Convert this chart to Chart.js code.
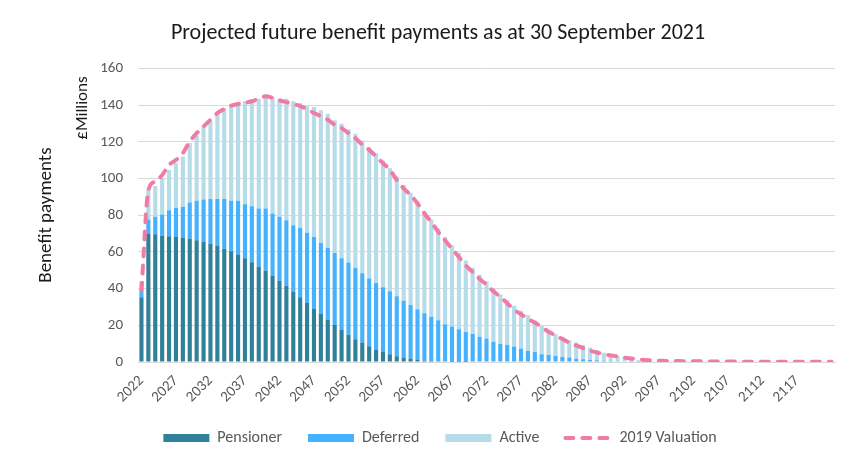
<!DOCTYPE html>
<html>
<head>
<meta charset="utf-8">
<script src="https://cdn.jsdelivr.net/npm/chart.js@4.4.0/dist/chart.umd.min.js"></script>
<style>
  html, body { margin: 0; padding: 0; background: #fff; }
  #wrap { width: 852px; height: 462px; }
</style>
</head>
<body>
<div id="wrap"><canvas id="benefit-payments"></canvas></div>
<script>
// Projected benefit payments (£m) by year
const years = [
  2022, 2023, 2024, 2025, 2026, 2027, 2028, 2029, 2030, 2031,
  2032, 2033, 2034, 2035, 2036, 2037, 2038, 2039, 2040, 2041,
  2042, 2043, 2044, 2045, 2046, 2047, 2048, 2049, 2050, 2051,
  2052, 2053, 2054, 2055, 2056, 2057, 2058, 2059, 2060, 2061,
  2062, 2063, 2064, 2065, 2066, 2067, 2068, 2069, 2070, 2071,
  2072, 2073, 2074, 2075, 2076, 2077, 2078, 2079, 2080, 2081,
  2082, 2083, 2084, 2085, 2086, 2087, 2088, 2089, 2090, 2091,
  2092, 2093, 2094, 2095, 2096, 2097, 2098, 2099, 2100, 2101,
  2102, 2103, 2104, 2105, 2106, 2107, 2108, 2109, 2110, 2111,
  2112, 2113, 2114, 2115, 2116, 2117, 2118, 2119, 2120, 2121, 2122
];

// years that get a label on the axis
const tickYears = [
  2022, 2027, 2032, 2037, 2042, 2047, 2052, 2057, 2062, 2067,
  2072, 2077, 2082, 2087, 2092, 2097, 2102, 2107, 2112, 2117
];

const pensioner = [
  35.3, 70.0, 69.6, 69.0, 68.5, 68.1, 67.6, 67.2, 66.3, 65.4,
  64.5, 63.2, 61.7, 60.3, 58.6, 56.6, 54.4, 52.1, 49.9, 46.8,
  44.4, 41.6, 38.4, 35.3, 32.1, 28.9, 26.1, 23.2, 20.1, 17.4,
  14.8, 12.4, 10.6, 8.6, 6.8, 5.5, 4.2, 3.1, 2.4, 1.6,
  1.1, 0.7, 0.5, 0.4, 0.3, 0.2, 0.1, 0.1, 0, 0,
  0, 0, 0, 0, 0, 0, 0, 0, 0, 0,
  0, 0, 0, 0, 0, 0, 0, 0, 0, 0,
  0, 0, 0, 0, 0, 0, 0, 0, 0, 0,
  0, 0, 0, 0, 0, 0, 0, 0, 0, 0,
  0, 0, 0, 0, 0, 0, 0, 0, 0, 0, 0
];

const deferred = [
  4.5, 7.6, 9.5, 11.4, 14.2, 15.9, 17.0, 19.7, 21.6, 23.2,
  24.3, 25.6, 27.1, 27.6, 29.3, 29.4, 30.5, 31.6, 33.8, 34.1,
  34.7, 35.7, 36.1, 37.8, 38.4, 39.2, 38.7, 39.1, 39.3, 39.2,
  39.4, 38.9, 37.8, 36.9, 36.3, 35.2, 34.3, 32.7, 31.0, 29.5,
  27.6, 25.8, 24.2, 22.4, 20.3, 19.2, 17.8, 16.3, 15.2, 13.7,
  12.8, 11.1, 10.0, 9.3, 8.4, 7.3, 6.0, 5.5, 4.2, 3.8,
  3.3, 2.7, 2.4, 1.8, 1.5, 1.1, 0.9, 0.7, 0.5, 0.4,
  0.3, 0.2, 0.1, 0.1, 0, 0, 0, 0, 0, 0,
  0, 0, 0, 0, 0, 0, 0, 0, 0, 0,
  0, 0, 0, 0, 0, 0, 0, 0, 0, 0, 0
];

const active = [
  4.2, 17.0, 16.8, 19.7, 22.0, 24.3, 27.4, 32.4, 35.4, 39.8,
  42.3, 46.9, 49.6, 51.5, 52.4, 56.1, 58.1, 59.7, 62.1, 63.6,
  64.3, 66.1, 67.6, 68.1, 68.9, 70.9, 72.4, 73.0, 72.3, 73.3,
  72.7, 73.1, 72.3, 71.6, 70.7, 69.1, 67.1, 65.2, 63.0, 61.1,
  58.6, 55.9, 52.9, 49.9, 47.5, 44.2, 41.5, 38.9, 36.1, 33.8,
  31.2, 29.1, 26.8, 24.5, 22.3, 20.6, 19.6, 17.0, 15.5, 13.6,
  11.9, 11.0, 9.5, 8.8, 7.8, 6.8, 5.7, 4.4, 3.7, 2.9,
  2.1, 1.3, 0.8, 0.4, 0.4, 0.3, 0.2, 0.2, 0.1, 0.1,
  0.1, 0, 0, 0, 0, 0, 0, 0, 0, 0,
  0, 0, 0, 0, 0, 0, 0, 0, 0, 0, 0
];

const valuation2019 = [
  39, 93.5, 98.3, 101.9, 107.4, 110.1, 113.8, 120.2, 124.7, 128.4,
  132, 135.7, 137.9, 139.7, 140.6, 141.2, 142.1, 143.4, 144.8, 143.9,
  142.6, 141.6, 140.6, 139.4, 137.8, 135.7, 133.9, 132, 129.3, 127.5,
  124.7, 122, 118.4, 115.6, 112, 108.3, 104.7, 99.2, 94.6, 91,
  86.4, 80.9, 76.3, 70.9, 66.3, 61.7, 57.2, 52.6, 49, 45.3,
  42.2, 38.5, 35.5, 32, 28.5, 26, 23.5, 21.5, 19, 16.5,
  14.5, 12.5, 10.5, 9, 7.5, 6.2, 5.2, 4.3, 3.6, 3,
  2.4, 1.9, 1.4, 1.1, 0.9, 0.7, 0.6, 0.5, 0.5, 0.4,
  0.4, 0.4, 0.3, 0.3, 0.3, 0.3, 0.3, 0.2, 0.2, 0.2,
  0.2, 0.2, 0.2, 0.2, 0.2, 0.1, 0.1, 0.1, 0.1, 0.1, 0.1
];

const FONT = "Carlito, Calibri, Lato, sans-serif";
const GREY_TEXT = '#595959';
const DARK_TEXT = '#1a1a1a';
const GRID = '#d9d9d9';
const DASH = [8, 9];

function verticalText(ctx, text, x, y, size) {
  ctx.save();
  ctx.translate(x, y);
  ctx.rotate(-Math.PI / 2);
  ctx.font = `${size}px ${FONT}`;
  ctx.fillStyle = DARK_TEXT;
  ctx.textAlign = 'center';
  ctx.textBaseline = 'middle';
  ctx.fillText(text, 0, 0);
  ctx.restore();
}

// the two vertical axis titles sit outside the scale box, and the title /
// legend are nudged left to where Excel centred them
const chartExtras = {
  id: 'chartExtras',
  afterLayout(chart) {
    chart.legend.left -= 12;
    chart.legend.right -= 12;
    chart.titleBlock.left -= 14;
    chart.titleBlock.right -= 14;
  },
  afterDraw(chart) {
    verticalText(chart.ctx, 'Benefit payments', 46, 215, 19);
    verticalText(chart.ctx, '£Millions', 83, 108, 17);
  }
};

const defaultLabels = Chart.defaults.plugins.legend.labels.generateLabels;

new Chart(document.getElementById('benefit-payments'), {
  data: {
    labels: years,
    datasets: [
      {
        type: 'bar',
        label: 'Pensioner',
        data: pensioner,
        backgroundColor: '#31809a',
        stack: 'members',
        barPercentage: 0.6,
        categoryPercentage: 1
      },
      {
        type: 'bar',
        label: 'Deferred',
        data: deferred,
        backgroundColor: '#45b2ff',
        stack: 'members',
        barPercentage: 0.6,
        categoryPercentage: 1
      },
      {
        type: 'bar',
        label: 'Active',
        data: active,
        backgroundColor: '#b6dcea',
        stack: 'members',
        barPercentage: 0.6,
        categoryPercentage: 1
      },
      {
        type: 'line',
        label: '2019 Valuation',
        data: valuation2019,
        stack: 'valuation',
        borderColor: '#f27ba5',
        backgroundColor: '#f27ba5',
        borderWidth: 4,
        borderDash: DASH,
        borderCapStyle: 'round',
        pointRadius: 0,
        cubicInterpolationMode: 'monotone',
        fill: false,
        order: -1
      }
    ]
  },
  options: {
    responsive: true,
    maintainAspectRatio: false,
    animation: false,
    layout: { padding: { left: 69, right: 17, top: 0, bottom: 6 } },
    plugins: {
      title: {
        display: true,
        text: 'Projected future benefit payments as at 30 September 2021',
        color: DARK_TEXT,
        font: { family: FONT, size: 22, weight: 'normal' },
        padding: { top: 20, bottom: 22 }
      },
      legend: {
        position: 'bottom',
        labels: {
          color: GREY_TEXT,
          font: { family: FONT, size: 16 },
          usePointStyle: true,
          pointStyleWidth: 46,
          boxWidth: 46,
          boxHeight: 8,
          padding: 26,
          sort: (a, b) => a.datasetIndex - b.datasetIndex,
          generateLabels: chart => defaultLabels(chart).map(item => {
            const isLine = item.datasetIndex === 3;
            item.pointStyle = isLine ? 'line' : 'rect';
            item.lineWidth = isLine ? 4 : 0;
            item.lineDash = isLine ? DASH : [];
            item.lineCap = isLine ? 'round' : 'butt';
            return item;
          })
        }
      },
      tooltip: { enabled: false }
    },
    scales: {
      x: {
        stacked: true,
        grid: { display: false },
        border: { color: GRID },
        ticks: {
          color: GREY_TEXT,
          font: { family: FONT, size: 15 },
          autoSkip: false,
          minRotation: 45,
          maxRotation: 45,
          padding: 2,
          callback: function (value, index) {
            return tickYears.includes(years[index]) ? String(years[index]) : '';
          }
        },
        afterFit: scale => { scale.height = 42; }
      },
      y: {
        stacked: true,
        min: 0,
        max: 160,
        grid: { color: GRID, drawTicks: false },
        border: { display: false },
        ticks: {
          stepSize: 20,
          padding: 15,
          color: GREY_TEXT,
          font: { family: FONT, size: 15 }
        },
        afterFit: scale => { scale.width = 69; }
      }
    }
  },
  plugins: [chartExtras]
});
</script>
</body>
</html>
